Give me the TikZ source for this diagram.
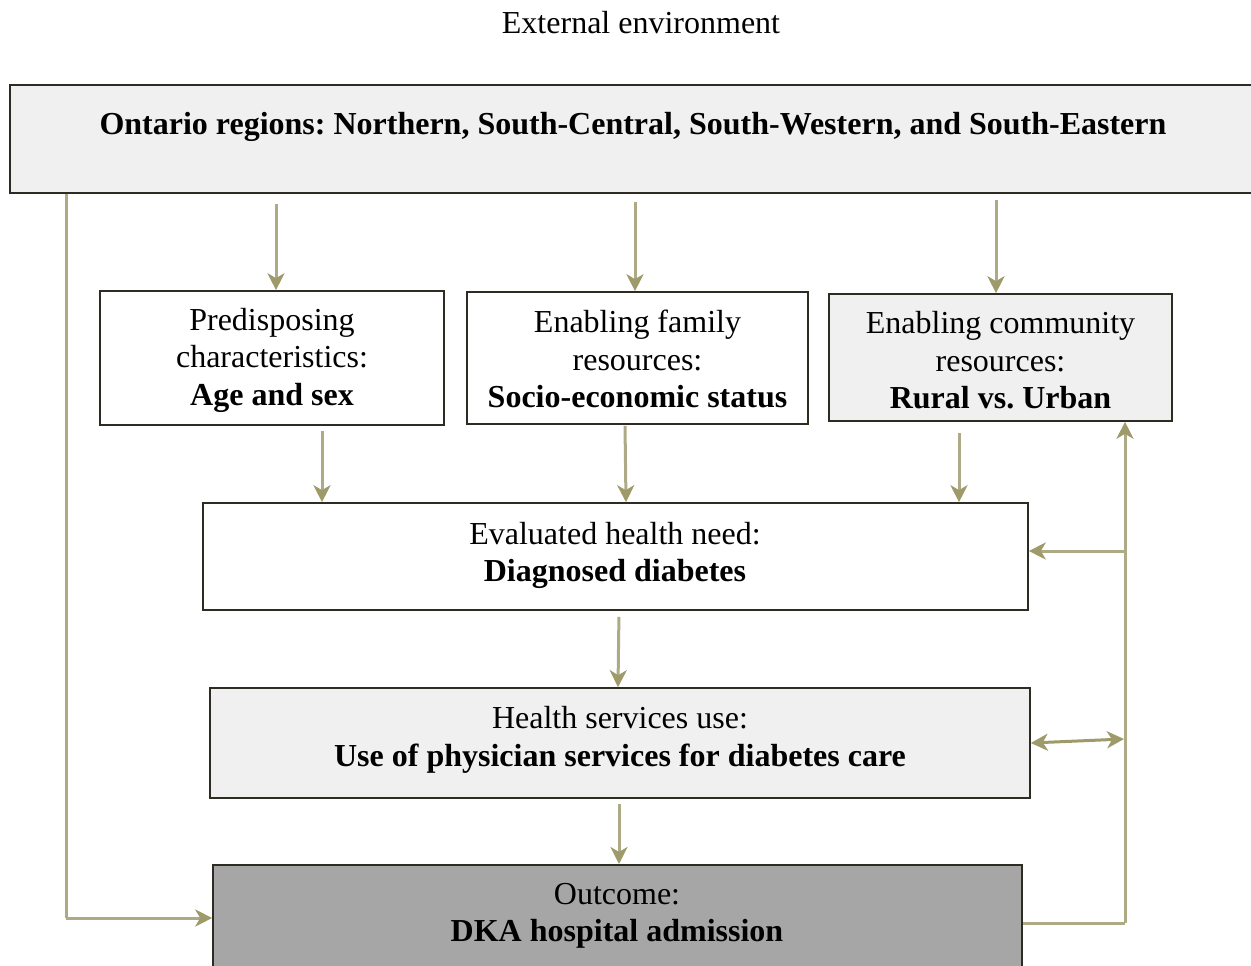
\documentclass[tikz,border=0pt]{standalone}
\usepackage{fontspec}
\setmainfont{Liberation Serif}
\usetikzlibrary{arrows.meta}
\frenchspacing
\definecolor{lin}{HTML}{ADAA85}
\definecolor{tip}{HTML}{9E9A6A}
\definecolor{boxline}{HTML}{2E2B22}
\definecolor{lightfill}{HTML}{F0F0F0}
\definecolor{darkfill}{HTML}{A6A6A6}
\begin{document}
\begin{tikzpicture}[x=1pt,y=-1pt,
  box/.style={draw=boxline,line width=1.6pt,inner sep=0pt},
  txt/.style={align=center,inner sep=0pt,font=\fontsize{32}{37.5}\selectfont},
  arr/.style={line width=3pt,draw=lin,-{Stealth[length=17pt,width=17pt,inset=5pt,color=tip]}},
  dbl/.style={line width=3pt,draw=tip,{Stealth[length=17pt,width=17pt,inset=5pt,color=tip]}-{Stealth[length=17pt,width=17pt,inset=5pt,color=tip]}},
  plain/.style={line width=3pt,draw=lin}]
\useasboundingbox (0,0) rectangle (1251,966);
\clip (0,0) rectangle (1251,966);
\node[txt] (title) at (641,23) {External environment};
\node[box,fill=lightfill,minimum width=1250pt,minimum height=108pt,anchor=north west] (top) at (9,84) {};
\node[txt,font=\fontsize{32}{37.5}\selectfont\bfseries] (toptext) at (633,127) {Ontario regions: Northern, South-Central, South-Western, and South-Eastern};
\node[box,fill=white,minimum width=344pt,minimum height=134pt] (pred) at (272,358) {};
\node[txt] (predtext) at (272,360) {Predisposing\\characteristics:\\\textbf{Age and sex}};
\node[box,fill=white,minimum width=341pt,minimum height=132pt] (fam) at (637.5,358) {};
\node[txt] (famtext) at (637.5,359) {Enabling family\\resources:\\\textbf{Socio-economic status}};
\node[box,fill=lightfill,minimum width=343pt,minimum height=127pt] (com) at (1000.5,357.5) {};
\node[txt] (comtext) at (1000.5,360.5) {Enabling community\\resources:\\\textbf{Rural vs. Urban}};
\node[box,fill=white,minimum width=825pt,minimum height=107pt] (eval) at (615.5,556.5) {};
\node[txt] (evaltext) at (615,555.5) {Evaluated health need:\\\textbf{Diagnosed diabetes}};
\node[box,fill=lightfill,minimum width=820pt,minimum height=110pt] (hs) at (620,743) {};
\node[txt] (hstext) at (620,740) {Health services use:\\\textbf{Use of physician services for diabetes care}};
\node[box,fill=darkfill,minimum width=809pt,minimum height=112pt,anchor=north] (out) at (617.5,864) {};
\node[txt] (outtext) at (617,916) {Outcome:\\\textbf{DKA hospital admission}};
\coordinate (vr) at (1125,923);
\coordinate (vl) at (66,918);
% arrows from top box
\draw[arr,shorten <=10pt] (276,0 |- top.south) -- (276,0 |- pred.north);
\draw[arr,shorten <=8pt] (635,0 |- top.south) -- (635,0 |- fam.north);
\draw[arr,shorten <=6pt] (996,0 |- top.south) -- (996,0 |- com.north);
% to evaluated
\draw[arr,shorten <=5pt] (322,0 |- pred.south) -- (322,0 |- eval.north);
\draw[arr,shorten <=1pt] (625,0 |- fam.south) -- (626,0 |- eval.north);
\draw[arr,shorten <=11pt] (959,0 |- com.south) -- (959,0 |- eval.north);
% chain
\draw[arr,shorten <=6pt] (619,0 |- eval.south) -- (618,0 |- hs.north);
\draw[arr,shorten <=5pt] (619,0 |- hs.south) -- (619,0 |- out.north);
% left loop
\draw[plain] (66,0 |- top.south) -- (vl);
\draw[arr] (vl) -- (vl -| out.west);
% right feedback
\draw[plain] (out.east |- vr) -- (vr);
\draw[arr] (vr) -- (1125,0 |- com.south);
\draw[arr] (1125,551) -- (1125,551 -| eval.east);
\draw[dbl] (hs.east) -- (1124,739);
\end{tikzpicture}
\end{document}
